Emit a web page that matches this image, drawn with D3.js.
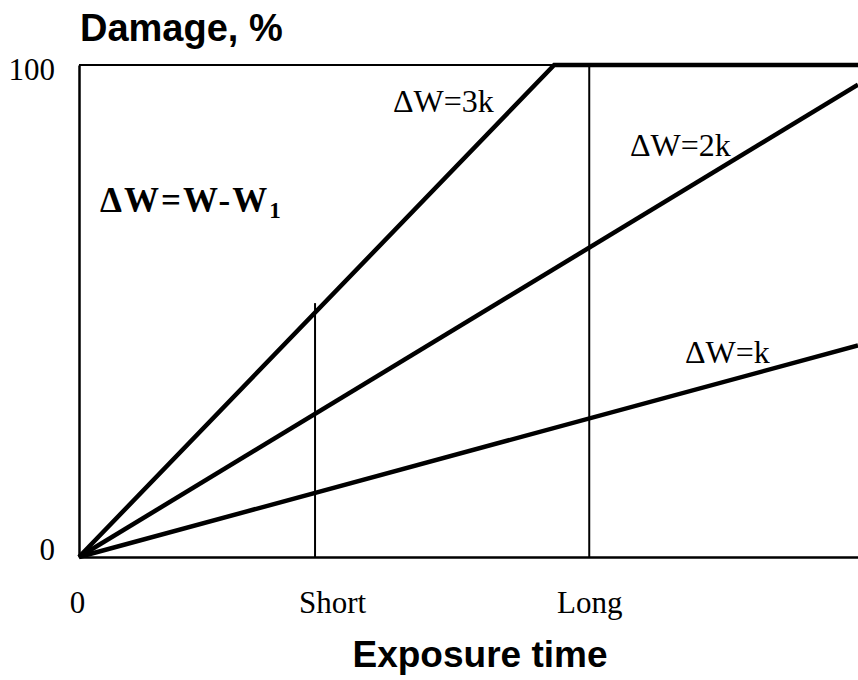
<!DOCTYPE html>
<html>
<head>
<meta charset="utf-8">
<script src="https://cdn.jsdelivr.net/npm/d3@7"></script>
<style>
  body { margin: 0; background: #fff; }
  svg { display: block; }
</style>
</head>
<body>
<svg id="chart" width="858" height="680"></svg>
<script>
// values (time in % of the shown span, damage in %)
const seriesNames = ["ΔW=k", "ΔW=2k", "ΔW=3k"];
const kTime = [0, 100],      kDamage = [0, 43];
const k2Time = [0, 100],     k2Damage = [0, 96];
const k3Time = [0, 61, 100], k3Damage = [0, 100, 100];

const xTickValues = [0, 30.3, 65.5];
const xTickLabels = ["0", "Short", "Long"];
const yTickValues = [0, 100];

// vertical markers at short / long exposure
const markerTimes = [30.3, 65.5];
const markerTops = [51.6, 100];

let layout = {"width": 858, "height": 680,
              "left": 79, "right": 858,
              "top": 65, "bottom": 557};

const svg = d3.select("#chart");

let x = d3.scaleLinear()
          .domain([0, 100])
          .range([layout.left, layout.right]);

let y = d3.scaleLinear()
          .domain([0, 100])
          .range([layout.bottom, layout.top]);

const serif = "'Liberation Serif', 'Times New Roman', serif";
const sans = "'Liberation Sans', Arial, sans-serif";

// frame line at 100 %
svg.append("line")
   .attr("x1", x(0)).attr("x2", x(100))
   .attr("y1", y(100)).attr("y2", y(100))
   .attr("stroke", "#000").attr("stroke-width", 2);

// markers
svg.append("g")
   .selectAll("line")
   .data(markerTimes)
   .join("line")
   .attr("x1", d => x(d)).attr("x2", d => x(d))
   .attr("y1", y(0))
   .attr("y2", (d, i) => y(markerTops[i]))
   .attr("stroke", "#000").attr("stroke-width", 2);

// axes
let yAxis = svg.append("g")
   .attr("transform", `translate(${layout.left},0)`)
   .call(d3.axisLeft(y).tickValues(yTickValues).tickSize(0).tickSizeOuter(0).tickPadding(24).tickFormat(d3.format("d")));

let xAxis = svg.append("g")
   .attr("transform", `translate(0,${layout.bottom})`)
   .call(d3.axisBottom(x).tickValues(xTickValues).tickSize(0).tickSizeOuter(0).tickPadding(34)
         .tickFormat((d, i) => xTickLabels[i]));

[xAxis, yAxis].forEach(a => {
  a.select(".domain").attr("stroke", "#000").attr("stroke-width", 2.5);
  a.selectAll("text")
   .attr("font-family", serif)
   .attr("font-size", 31)
   .attr("fill", "#000");
});
yAxis.selectAll("text").attr("dy", d => d === 100 ? "0.47em" : "0.07em");
xAxis.selectAll("text").attr("dx", (d, i) => i === 1 ? 17 : (i === 0 ? -2 : 0));

// damage lines
const series = [
  {name: seriesNames[0], time: kTime, damage: kDamage},
  {name: seriesNames[1], time: k2Time, damage: k2Damage},
  {name: seriesNames[2], time: k3Time, damage: k3Damage}
];

let line = d3.line()
             .x(d => x(d[0]))
             .y(d => y(d[1]));

svg.append("g")
   .selectAll("path")
   .data(series)
   .join("path")
   .attr("d", s => line(s.time.map((t, i) => [t, s.damage[i]])))
   .attr("fill", "none")
   .attr("stroke", "#000")
   .attr("stroke-width", 4.5)
   .attr("stroke-linejoin", "miter");

// line labels
const labelPos = [[685, 363], [630, 156], [393, 112]];
svg.append("g")
   .selectAll("text")
   .data(series)
   .join("text")
   .attr("x", (d, i) => labelPos[i][0])
   .attr("y", (d, i) => labelPos[i][1])
   .attr("font-family", serif)
   .attr("font-size", 32)
   .text(d => d.name);

// formula
let formula = svg.append("text")
   .attr("x", 100).attr("y", 212)
   .attr("font-family", serif)
   .attr("font-size", 35)
   .attr("font-weight", "bold")
   .attr("letter-spacing", 2);
formula.append("tspan").text("ΔW=W-W");
formula.append("tspan").attr("font-size", 23).attr("dy", 6).text("1");

// titles
svg.append("text")
   .attr("x", 80).attr("y", 41)
   .attr("font-family", sans)
   .attr("font-weight", "bold")
   .attr("font-size", 38)
   .text("Damage, %");

svg.append("text")
   .attr("x", 480).attr("y", 667)
   .attr("text-anchor", "middle")
   .attr("font-family", sans)
   .attr("font-weight", "bold")
   .attr("font-size", 37)
   .text("Exposure time");
</script>
</body>
</html>
